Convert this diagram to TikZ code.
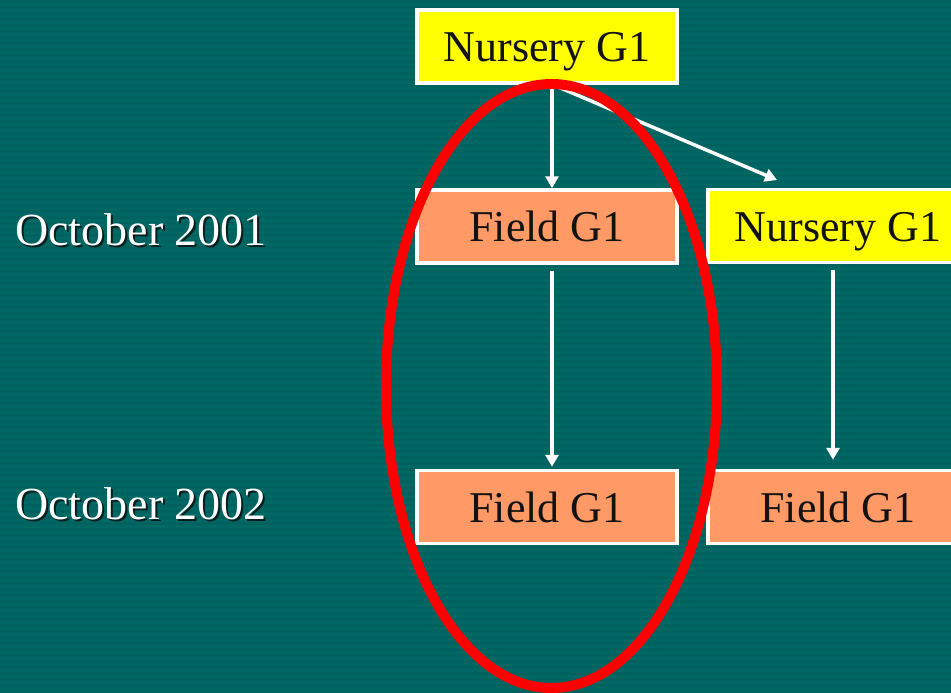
\documentclass[tikz,border=0pt]{standalone}
\usepackage{fontspec}
\setmainfont{Liberation Serif}
\usetikzlibrary{arrows.meta}
\definecolor{bg}{RGB}{0,104,100}
\definecolor{nursery}{RGB}{255,255,0}
\definecolor{field}{RGB}{255,153,102}
\definecolor{ring}{RGB}{255,0,0}
\definecolor{shade}{RGB}{10,30,30}
\newcommand{\shadowtext}[1]{\rlap{\hspace{2pt}\raisebox{-2pt}{\textcolor{shade}{#1}}}#1}
\tikzset{
  box/.style={draw=white, line width=3.5pt, minimum width=260pt, minimum height=73pt,
    inner sep=0pt, text height=30pt, text depth=0pt, text=black!93,
    font=\fontsize{44}{50}\selectfont},
  nbox/.style={box, fill=nursery},
  fbox/.style={box, fill=field},
  conn/.style={draw=white, line width=3.5pt, -{Triangle[length=12pt,width=13pt]}},
  datelbl/.style={anchor=west, inner sep=0pt, text=white, font=\fontsize{46}{50}\selectfont}
}
\begin{document}
\begin{tikzpicture}[x=1pt,y=-1pt]
\fill[bg] (0,0) rectangle (951,693);
\useasboundingbox (0,0) rectangle (951,693);
\foreach \yy in {0,6,...,690} {\fill[black,opacity=0.05] (0,\yy) rectangle (951,\yy+3);}

\node[nbox] (n0) at (547,46.5) {Nursery G1};
\node[fbox] (f1) at (547,226.5) {Field G1};
\node[nbox] (n1) at (838,226) {Nursery G1};
\node[fbox] (f2) at (547,507) {Field G1};
\node[fbox] (f3) at (838,507) {Field G1};

\node[datelbl] (d1) at (15,231) {\shadowtext{October 2001}};
\node[datelbl] (d2) at (15,505) {\shadowtext{October 2002}};

\coordinate (dtip) at (777,180);
\draw[conn] ([xshift=5pt]n0.south) -- ([xshift=5pt]f1.north);
\draw[conn] ([xshift=6pt]n0.south) -- (dtip);
\draw[conn] ([xshift=5pt,yshift=-6pt]f1.south) -- ([xshift=5pt,yshift=2pt]f2.north);
\draw[conn] ([xshift=-5pt,yshift=-6pt]n1.south) -- ([xshift=-5pt,yshift=9pt]f3.north);

\draw[ring, line width=10pt] (551.5,386) ellipse [x radius=165.5, y radius=302];
\end{tikzpicture}
\end{document}
